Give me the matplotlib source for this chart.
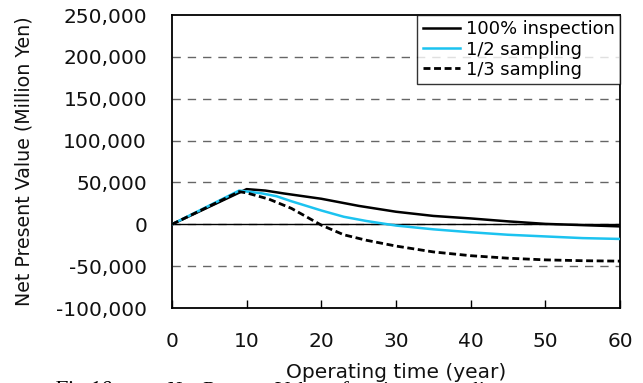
import numpy as np
import matplotlib.pyplot as plt

# Net present value vs operating time for three inspection schemes
years_full = [0, 10, 12.5, 15, 20, 25, 30, 35, 40, 45, 50, 55, 60]
npv_full = [0, 42000, 40300, 36800, 30500, 22000, 15000, 10000, 7000, 3500, 500, -1000, -2500]

years_half = [0, 9, 12, 14, 16, 18, 20, 23, 26, 30, 35, 40, 45, 50, 55, 60]
npv_half = [0, 40300, 37000, 33500, 27500, 22000, 16500, 9000, 4000, -1500, -6000, -9500,
            -12500, -14500, -16500, -17500]

years_third = [0, 9, 10, 13, 16, 20, 23, 26, 30, 35, 40, 45, 50, 55, 60]
npv_third = [0, 39000, 37500, 30000, 19000, -1000, -12500, -19000, -26000, -33000, -37500,
             -40500, -42500, -43500, -44000]

labels = ['100% inspection', '1/2 sampling', '1/3 sampling']
yticks = [-100000, -50000, 0, 50000, 100000, 150000, 200000, 250000]
xticks = [0, 10, 20, 30, 40, 50, 60]

fig = plt.figure(figsize=(6.43, 3.83), dpi=100)
ax = fig.add_axes([0.2675, 0.1958, 0.6967, 0.765])

for y in [-50000, 0, 50000, 100000, 150000, 200000]:
    ax.axhline(y, color='#666666', lw=1.0, ls=(0, (6, 5)), zorder=1)
ax.axhline(0, color='black', lw=1.0, zorder=1)

ax.plot(years_full, npv_full, color='black', lw=1.8, label=labels[0], zorder=3)
ax.plot(years_half, npv_half, color='#1CC3F0', lw=1.8, label=labels[1], zorder=3)
ax.plot(years_third, npv_third, color='black', lw=2.0, ls=(0, (2.5, 1.3)), label=labels[2], zorder=3)

ax.set_xlim(0, 60)
ax.set_ylim(-100000, 250000)
ax.set_xticks(xticks)
ax.set_yticks(yticks)
ax.set_yticklabels([f'{v:,}' for v in yticks])
ax.tick_params(axis='x', direction='in', length=6, width=1, pad=17, labelsize=14.5,
               labelcolor='#111111')
ax.tick_params(axis='y', length=0, pad=18, labelsize=14.5, labelcolor='#111111')
for s in ax.spines.values():
    s.set_linewidth(1.3)

ax.set_xlabel('Operating time (year)', fontsize=14.5, labelpad=9, color='#111111')
ax.set_ylabel('Net Present Value (Million Yen)', fontsize=13.7, labelpad=16, color='#111111')

leg = ax.legend(loc='upper right', fontsize=12.9, frameon=True, fancybox=False,
                borderaxespad=0, handlelength=2.1, handletextpad=0.3,
                labelspacing=0.12, borderpad=0.3)
leg.get_frame().set_edgecolor('black')
leg.get_frame().set_linewidth(1.0)

# figure caption, mostly below the bottom edge
fig.text(0.083, 0.006, 'Fig.10', fontsize=16, family='Liberation Serif',
         style='italic', va='top', zorder=0)
fig.text(0.257, 0.006, 'Net Present Value of various sampling', fontsize=16,
         family='Liberation Serif', style='italic', va='top', zorder=0)

fig.savefig('out.png', dpi=100)
